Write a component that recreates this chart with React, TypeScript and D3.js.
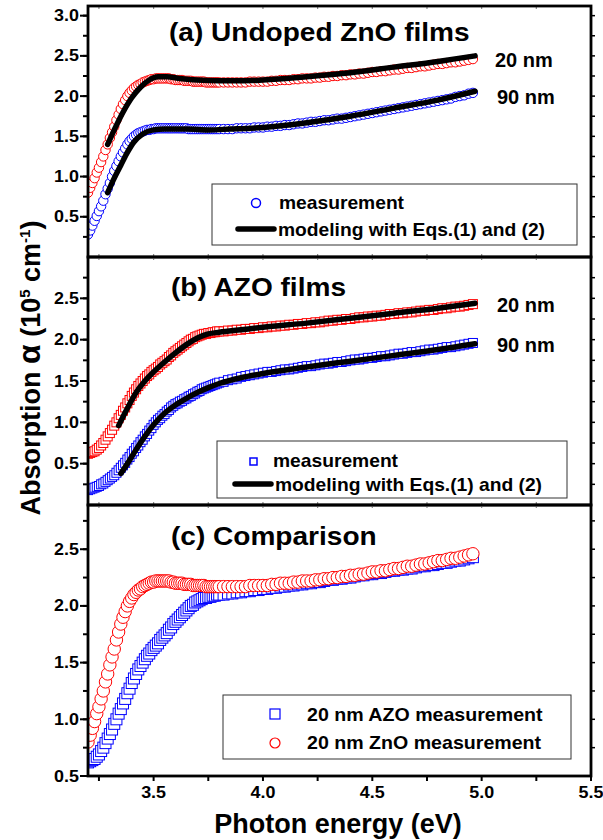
import React from 'react';
import * as d3 from 'd3';

// ---------- data ----------
// photon energy grid (eV): 0.01 eV steps up to 3.80, 0.02 eV steps after
const energy = [
  3.20, 3.21, 3.22, 3.23, 3.24, 3.25, 3.26, 3.27, 3.28, 3.29,
  3.30, 3.31, 3.32, 3.33, 3.34, 3.35, 3.36, 3.37, 3.38, 3.39,
  3.40, 3.41, 3.42, 3.43, 3.44, 3.45, 3.46, 3.47, 3.48, 3.49,
  3.50, 3.51, 3.52, 3.53, 3.54, 3.55, 3.56, 3.57, 3.58, 3.59,
  3.60, 3.61, 3.62, 3.63, 3.64, 3.65, 3.66, 3.67, 3.68, 3.69,
  3.70, 3.71, 3.72, 3.73, 3.74, 3.75, 3.76, 3.77, 3.78, 3.79,
  3.80,
  3.82, 3.84, 3.86, 3.88, 3.90, 3.92, 3.94, 3.96, 3.98,
  4.00, 4.02, 4.04, 4.06, 4.08, 4.10, 4.12, 4.14, 4.16, 4.18,
  4.20, 4.22, 4.24, 4.26, 4.28, 4.30, 4.32, 4.34, 4.36, 4.38,
  4.40, 4.42, 4.44, 4.46, 4.48, 4.50, 4.52, 4.54, 4.56, 4.58,
  4.60, 4.62, 4.64, 4.66, 4.68, 4.70, 4.72, 4.74, 4.76, 4.78,
  4.80, 4.82, 4.84, 4.86, 4.88, 4.90, 4.92, 4.94, 4.96,
];

// 20 nm undoped ZnO (measurement)
const zno20 = [
  0.80, 0.86, 0.92, 0.98, 1.05, 1.11, 1.18, 1.25, 1.33, 1.40,
  1.48, 1.55, 1.62, 1.70, 1.77, 1.84, 1.90, 1.95, 2.00, 2.04,
  2.07, 2.10, 2.12, 2.14, 2.15, 2.17, 2.18, 2.19, 2.20, 2.21,
  2.21, 2.22, 2.22, 2.22, 2.22, 2.22, 2.22, 2.22, 2.21, 2.21,
  2.20, 2.20, 2.20, 2.20, 2.19, 2.19, 2.19, 2.19, 2.18, 2.18,
  2.18, 2.18, 2.18, 2.18, 2.17, 2.17, 2.17, 2.17, 2.17, 2.17,
  2.17,
  2.17, 2.17, 2.17, 2.17, 2.17, 2.17, 2.18, 2.18, 2.18,
  2.18, 2.18, 2.19, 2.19, 2.20, 2.20, 2.20, 2.21, 2.21, 2.22,
  2.22, 2.22, 2.23, 2.23, 2.24, 2.24, 2.25, 2.25, 2.26, 2.26,
  2.27, 2.27, 2.28, 2.28, 2.29, 2.30, 2.30, 2.31, 2.31, 2.32,
  2.33, 2.33, 2.34, 2.35, 2.35, 2.36, 2.37, 2.37, 2.38, 2.39,
  2.40, 2.40, 2.41, 2.42, 2.42, 2.43, 2.44, 2.45, 2.46,
];

// 90 nm undoped ZnO (measurement)
const zno90 = [
  0.28, 0.33, 0.39, 0.45, 0.51, 0.57, 0.63, 0.70, 0.78, 0.85,
  0.92, 1.00, 1.07, 1.13, 1.19, 1.25, 1.30, 1.35, 1.40, 1.44,
  1.47, 1.50, 1.52, 1.54, 1.55, 1.56, 1.57, 1.58, 1.58, 1.59,
  1.59, 1.60, 1.60, 1.60, 1.60, 1.60, 1.60, 1.60, 1.60, 1.60,
  1.60, 1.60, 1.60, 1.60, 1.60, 1.60, 1.59, 1.59, 1.59, 1.59,
  1.59, 1.59, 1.59, 1.59, 1.59, 1.59, 1.59, 1.59, 1.59, 1.59,
  1.59,
  1.59, 1.59, 1.59, 1.60, 1.60, 1.60, 1.60, 1.61, 1.61,
  1.61, 1.62, 1.62, 1.63, 1.63, 1.64, 1.64, 1.65, 1.66, 1.66,
  1.67, 1.68, 1.68, 1.69, 1.70, 1.70, 1.71, 1.72, 1.72, 1.73,
  1.74, 1.75, 1.76, 1.77, 1.78, 1.79, 1.80, 1.81, 1.82, 1.83,
  1.84, 1.85, 1.86, 1.87, 1.88, 1.89, 1.90, 1.91, 1.92, 1.93,
  1.94, 1.95, 1.96, 1.97, 1.99, 2.00, 2.01, 2.03, 2.04,
];

// 20 nm AZO (measurement)
const azo20 = [
  0.62, 0.63, 0.64, 0.65, 0.67, 0.69, 0.72, 0.75, 0.79, 0.83,
  0.87, 0.91, 0.96, 1.00, 1.05, 1.09, 1.14, 1.18, 1.23, 1.27,
  1.32, 1.36, 1.40, 1.44, 1.47, 1.50, 1.53, 1.56, 1.58, 1.61,
  1.63, 1.65, 1.67, 1.70, 1.72, 1.74, 1.76, 1.79, 1.81, 1.84,
  1.86, 1.88, 1.90, 1.92, 1.94, 1.96, 1.98, 2.00, 2.01, 2.03,
  2.04, 2.05, 2.06, 2.07, 2.07, 2.08, 2.08, 2.09, 2.09, 2.10,
  2.10,
  2.10, 2.11, 2.11, 2.12, 2.12, 2.13, 2.13, 2.14, 2.14,
  2.15, 2.15, 2.16, 2.16, 2.17, 2.17, 2.18, 2.18, 2.19, 2.19,
  2.20, 2.20, 2.21, 2.21, 2.22, 2.23, 2.23, 2.24, 2.24, 2.25,
  2.25, 2.26, 2.27, 2.27, 2.28, 2.28, 2.29, 2.29, 2.30, 2.31,
  2.31, 2.32, 2.32, 2.33, 2.33, 2.34, 2.35, 2.35, 2.36, 2.36,
  2.37, 2.38, 2.38, 2.39, 2.40, 2.40, 2.41, 2.42, 2.43,
];

// 90 nm AZO (measurement)
const azo90 = [
  0.18, 0.19, 0.20, 0.21, 0.22, 0.23, 0.25, 0.26, 0.28, 0.30,
  0.32, 0.34, 0.36, 0.39, 0.42, 0.45, 0.48, 0.51, 0.55, 0.58,
  0.62, 0.65, 0.69, 0.72, 0.76, 0.79, 0.83, 0.86, 0.90, 0.93,
  0.97, 1.00, 1.03, 1.05, 1.08, 1.10, 1.13, 1.15, 1.18, 1.20,
  1.22, 1.23, 1.25, 1.26, 1.28, 1.29, 1.31, 1.32, 1.34, 1.35,
  1.37, 1.38, 1.40, 1.41, 1.42, 1.43, 1.44, 1.45, 1.46, 1.47,
  1.48,
  1.49, 1.51, 1.52, 1.53, 1.55, 1.56, 1.57, 1.58, 1.59,
  1.60, 1.61, 1.61, 1.62, 1.63, 1.64, 1.64, 1.65, 1.66, 1.67,
  1.68, 1.68, 1.69, 1.70, 1.71, 1.71, 1.72, 1.73, 1.73, 1.74,
  1.75, 1.76, 1.76, 1.77, 1.78, 1.78, 1.79, 1.80, 1.80, 1.81,
  1.82, 1.83, 1.83, 1.84, 1.85, 1.85, 1.86, 1.87, 1.88, 1.88,
  1.89, 1.90, 1.91, 1.91, 1.92, 1.93, 1.94, 1.95, 1.96,
];

// modeling with Eqs.(1) and (2)
const modelA20E = [3.29, 3.32, 3.36, 3.40, 3.44, 3.48, 3.52, 3.56, 3.62, 3.70, 3.80, 3.90, 4.00, 4.20, 4.40, 4.60, 4.80, 4.97];
const modelA20 = [1.40, 1.58, 1.80, 1.98, 2.11, 2.20, 2.24, 2.24, 2.22, 2.20, 2.19, 2.19, 2.20, 2.24, 2.29, 2.36, 2.43, 2.50];
const modelA90E = [3.29, 3.32, 3.35, 3.38, 3.41, 3.45, 3.50, 3.55, 3.65, 3.75, 3.85, 4.00, 4.20, 4.40, 4.60, 4.80, 4.97];
const modelA90 = [0.80, 0.98, 1.14, 1.30, 1.43, 1.53, 1.58, 1.59, 1.59, 1.58, 1.59, 1.61, 1.67, 1.75, 1.85, 1.95, 2.06];
const modelB20E = [3.34, 3.38, 3.42, 3.46, 3.50, 3.55, 3.60, 3.65, 3.70, 3.75, 3.80, 3.90, 4.00, 4.20, 4.40, 4.60, 4.80, 4.97];
const modelB20 = [0.96, 1.17, 1.36, 1.50, 1.61, 1.73, 1.84, 1.94, 2.02, 2.07, 2.09, 2.12, 2.15, 2.20, 2.26, 2.32, 2.38, 2.44];
const modelB90E = [3.35, 3.38, 3.42, 3.46, 3.50, 3.55, 3.60, 3.65, 3.70, 3.75, 3.80, 3.90, 4.00, 4.20, 4.40, 4.60, 4.80, 4.97];
const modelB90 = [0.38, 0.50, 0.67, 0.83, 0.97, 1.11, 1.21, 1.29, 1.36, 1.42, 1.47, 1.54, 1.59, 1.67, 1.74, 1.81, 1.88, 1.95];

const xMajor = [3.5, 4.0, 4.5, 5.0, 5.5];
const xMinor = [3.25, 3.5, 3.75, 4.0, 4.25, 4.5, 4.75, 5.0, 5.25, 5.5];
const yMajorA = [0.5, 1.0, 1.5, 2.0, 2.5, 3.0];
const yMinorA = [0.25, 0.5, 0.75, 1.0, 1.25, 1.5, 1.75, 2.0, 2.25, 2.5, 2.75, 3.0];
const yMajorB = [0.5, 1.0, 1.5, 2.0, 2.5];
const yMinorB = [0.25, 0.5, 0.75, 1.0, 1.25, 1.5, 1.75, 2.0, 2.25, 2.5, 2.75];
const yMajorC = [0.5, 1.0, 1.5, 2.0, 2.5];
const yMinorC = [0.75, 1.0, 1.25, 1.5, 1.75, 2.0, 2.25, 2.5, 2.75];

const RED = '#ff0000';
const BLUE = '#0000ff';
const FONT = '"Liberation Sans", Arial, Helvetica, sans-serif';

function T(props: { x: number; y: number; size: number; sx?: number; anchor?: string; children: any }) {
  const { x, y, size, sx = 1, anchor = 'start', children } = props;
  return (
    <text transform={`translate(${x},${y}) scale(${sx},1)`} textAnchor={anchor as any}
      fontFamily={FONT} fontWeight={700} fontSize={size} fill="#000">{children}</text>
  );
}

export default function App() {
  const L = 88, R = 591;
  const x = d3.scaleLinear().domain([3.2, 5.5]).range([L, R]);
  const yA = d3.scaleLinear().domain([0, 3.12]).range([257, 6]);
  const yB = d3.scaleLinear().domain([0, 3.0]).range([505, 257]);
  const yC = d3.scaleLinear().domain([0.5, 2.89]).range([776, 505]);

  const lineGen = (ys: d3.ScaleLinear<number, number>) =>
    d3.line<[number, number]>().x(d => x(d[0])).y(d => ys(d[1])).curve(d3.curveMonotoneX);
  const pairs = (es: number[], vs: number[]) => es.map((e, i) => [e, vs[i]] as [number, number]);

  const circles = (vals: number[], ys: any, r: number, color: string, key: string) =>
    energy.map((e, i) => (
      <circle key={key + i} cx={x(e)} cy={ys(vals[i])} r={r} fill="#fff" stroke={color} strokeWidth={1} />
    ));
  const squares = (vals: number[], ys: any, s: number, color: string, key: string) =>
    energy.map((e, i) => (
      <rect key={key + i} x={x(e) - s / 2} y={ys(vals[i]) - s / 2} width={s} height={s} fill="#fff" stroke={color} strokeWidth={1} />
    ));

  const model = (es: number[], vs: number[], ys: any) => (
    <path d={lineGen(ys)(pairs(es, vs)) || ''} fill="none" stroke="#000" strokeWidth={5.5} strokeLinecap="round" strokeLinejoin="round" />
  );

  const panels = [
    { ys: yA, top: 6, bottom: 257, major: yMajorA, minor: yMinorA },
    { ys: yB, top: 257, bottom: 505, major: yMajorB, minor: yMinorB },
    { ys: yC, top: 505, bottom: 776, major: yMajorC, minor: yMinorC },
  ];

  return (
    <svg width={603} height={840} style={{ position: 'absolute', left: 0, top: 0, background: '#fff' }}>
      <defs>
        {panels.map((p, i) => (
          <clipPath id={'clip' + i} key={i}>
            <rect x={L} y={p.top} width={R - L} height={p.bottom - p.top} />
          </clipPath>
        ))}
      </defs>
      <rect x={0} y={0} width={603} height={840} fill="#fff" />

      {/* panel (a) */}
      <g clipPath="url(#clip0)">
        {circles(zno20, yA, 4.7, RED, 'a20')}
        {circles(zno90, yA, 4.7, BLUE, 'a90')}
        {model(modelA20E, modelA20, yA)}
        {model(modelA90E, modelA90, yA)}
      </g>
      {/* panel (b) */}
      <g clipPath="url(#clip1)">
        {squares(azo20, yB, 9, RED, 'b20')}
        {squares(azo90, yB, 9, BLUE, 'b90')}
        {model(modelB20E, modelB20, yB)}
        {model(modelB90E, modelB90, yB)}
      </g>
      {/* panel (c) */}
      <g clipPath="url(#clip2)">
        {squares(azo20, yC, 11, BLUE, 'c20s')}
        {circles(zno20, yC, 6.2, RED, 'c20c')}
      </g>

      {/* axes & frames */}
      {panels.map((p, i) => (
        <g key={'ax' + i}>
          {p.minor.map(v => (
            <g key={'mn' + v}>
              <line x1={L - 5} x2={L} y1={p.ys(v)} y2={p.ys(v)} stroke="#000" strokeWidth={2} />
              <line x1={R} x2={R + 4} y1={p.ys(v)} y2={p.ys(v)} stroke="#000" strokeWidth={1.5} />
            </g>
          ))}
          {p.major.map(v => (
            <g key={'mj' + v}>
              <line x1={L - 8} x2={L} y1={p.ys(v)} y2={p.ys(v)} stroke="#000" strokeWidth={2} />
              <T x={L - 9} y={p.ys(v) + 5.5} size={16} sx={1.12} anchor="end">{d3.format('.1f')(v)}</T>
            </g>
          ))}
          {xMinor.map(v => (
            <g key={'xt' + v}>
              <line x1={x(v)} x2={x(v)} y1={p.top} y2={p.top + 3} stroke="#888" strokeWidth={1.2} />
              {i < 2 && <line x1={x(v)} x2={x(v)} y1={p.bottom - 3} y2={p.bottom} stroke="#888" strokeWidth={1.2} />}
            </g>
          ))}
          <rect x={L} y={p.top} width={R - L} height={p.bottom - p.top} fill="none" stroke="#000" strokeWidth={2.8} />
        </g>
      ))}

      {/* bottom x axis ticks and labels */}
      {xMinor.map(v => (
        <line key={'bx' + v} x1={x(v)} x2={x(v)} y1={776} y2={781} stroke="#000" strokeWidth={2} />
      ))}
      {xMajor.map(v => (
        <T key={'bl' + v} x={x(v)} y={798} size={16} sx={1.12} anchor="middle">{d3.format('.1f')(v)}</T>
      ))}

      {/* axis titles */}
      <T x={338} y={833} size={27} anchor="middle">Photon energy (eV)</T>
      <text transform="translate(40,368) rotate(-90)" textAnchor="middle" fontFamily={FONT} fontWeight={700} fontSize={27}>
        Absorption <tspan fontSize={32}>α</tspan> (10<tspan dy={-10} fontSize={15}>5</tspan><tspan dy={10}> cm</tspan><tspan dy={-10} fontSize={15}>-1</tspan><tspan dy={10}>)</tspan>
      </text>

      {/* panel titles */}
      <T x={169} y={41} size={25.5} sx={1.1}>(a) Undoped ZnO films</T>
      <T x={171} y={296} size={25.5} sx={1.1}>(b) AZO films</T>
      <T x={171} y={545} size={25.5} sx={1.1}>(c) Comparison</T>

      {/* thickness labels */}
      <T x={495} y={67} size={20}>20 nm</T>
      <T x={497} y={104} size={20}>90 nm</T>
      <T x={497} y={312} size={20}>20 nm</T>
      <T x={497} y={352} size={20}>90 nm</T>

      {/* legend (a) */}
      <rect x={212} y={184} width={365} height={61} fill="#fff" stroke="#333" strokeWidth={1} />
      <circle cx={256} cy={203} r={4.5} fill="#fff" stroke={BLUE} strokeWidth={1.5} />
      <T x={279} y={209} size={18.5} sx={1.04}>measurement</T>
      <line x1={238} x2={274} y1={229} y2={229} stroke="#000" strokeWidth={5.5} strokeLinecap="round" />
      <T x={278} y={236} size={18.5} sx={1.04}>modeling with Eqs.(1) and (2)</T>

      {/* legend (b) */}
      <rect x={217} y={441} width={350} height={57} fill="#fff" stroke="#333" strokeWidth={1} />
      <rect x={250} y={458} width={7} height={7} fill="#fff" stroke={BLUE} strokeWidth={1.5} />
      <T x={273} y={467} size={18.5} sx={1.04}>measurement</T>
      <line x1={235} x2={271} y1={484} y2={484} stroke="#000" strokeWidth={5.5} strokeLinecap="round" />
      <T x={275} y={491} size={18.5} sx={1.04}>modeling with Eqs.(1) and (2)</T>

      {/* legend (c) */}
      <rect x={223} y={695} width={348} height={64} fill="#fff" stroke="#333" strokeWidth={1} />
      <rect x={270} y={709} width={10} height={10} fill="#fff" stroke={BLUE} strokeWidth={1.2} />
      <T x={307} y={721} size={18.5} sx={1.06}>20 nm AZO measurement</T>
      <circle cx={275} cy={743} r={5} fill="#fff" stroke={RED} strokeWidth={1.2} />
      <T x={307} y={749} size={18.5} sx={1.06}>20 nm ZnO measurement</T>
    </svg>
  );
}
